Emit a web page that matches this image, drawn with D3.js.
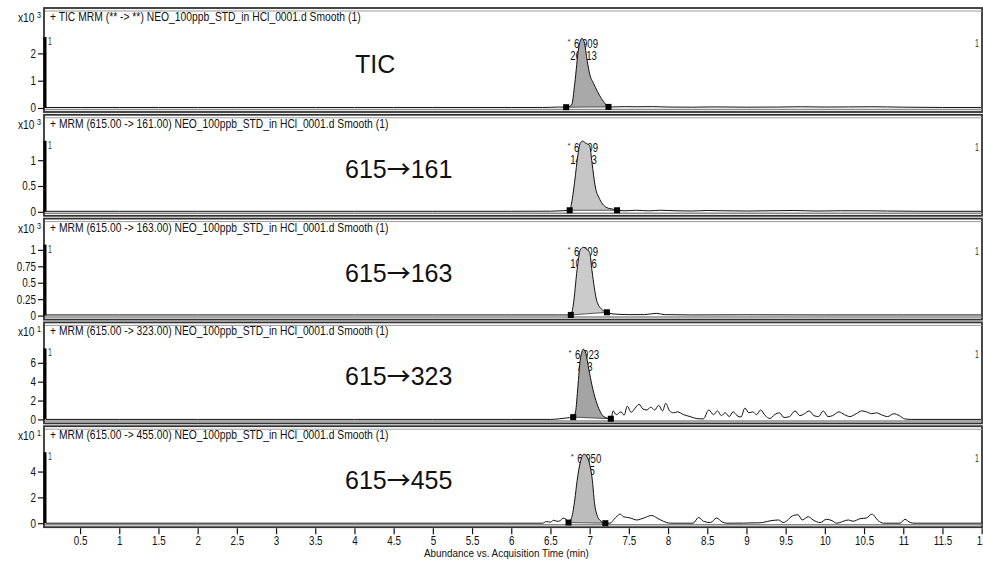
<!DOCTYPE html>
<html><head><meta charset="utf-8">
<script src="https://cdn.jsdelivr.net/npm/d3@7"></script>
<style>
body{margin:0;background:#fff}
svg{display:block}
</style></head><body>
<svg id="c" width="983" height="561"></svg>
<script>
// ---------- DATA ----------
const xTicks = [0.5,1,1.5,2,2.5,3,3.5,4,4.5,5,5.5,6,6.5,7,7.5,8,8.5,9,9.5,10,10.5,11,11.5,12];
const xTitle = "Abundance vs. Acquisition Time (min)";

const headers = [
  "+ TIC MRM (** -> **) NEO_100ppb_STD_in HCl_0001.d  Smooth (1)",
  "+ MRM (615.00 -> 161.00) NEO_100ppb_STD_in HCl_0001.d  Smooth (1)",
  "+ MRM (615.00 -> 163.00) NEO_100ppb_STD_in HCl_0001.d  Smooth (1)",
  "+ MRM (615.00 -> 323.00) NEO_100ppb_STD_in HCl_0001.d  Smooth (1)",
  "+ MRM (615.00 -> 455.00) NEO_100ppb_STD_in HCl_0001.d  Smooth (1)"
];
const labelPrefix = ["TIC","615","615","615","615"];
const labelSuffix = ["","161","163","323","455"];
const exponents = ["3","3","3","1","1"];
const yMax = [2.6, 1.376, 1.08, 7.53, 5.5];
const yTicks = [[0,1,2],[0,0.5,1],[0,0.25,0.5,0.75,1],[0,2,4,6],[0,2,4]];
const peakRT = [6.909, 6.909, 6.909, 6.923, 6.950];
const peakRTLabel = ["6.909","6.909","6.909","6.923","6.950"];
const peakArea = ["26813","14933","10696","753","585"];
const intStart = [[6.70,0.03],[6.745,0.03],[6.76,0.01],[6.79,0.24],[6.73,0.05]];
const intEnd   = [[7.24,0.04],[7.35,0.03],[7.22,0.05],[7.27,0.07],[7.20,0.0]];

const ticTrace = [[0.04,0.02],[0.5,0.02],[1,0.02],[1.5,0.02],[2,0.02],[2.5,0.02],[3,0.02],[3.5,0.02],[4,0.02],[4.5,0.02],[5,0.02],[5.5,0.02],[6,0.02],[6.4,0.02],[6.5,0.025],[6.6,0.035],[6.70,0.03],[6.77,0.11],[6.81,0.9],[6.86,2.2],[6.9,2.55],[6.93,2.42],[6.97,1.7],[7.0,1.25],[7.05,0.9],[7.1,0.6],[7.15,0.35],[7.2,0.15],[7.24,0.04],[7.3,0.04],[7.45,0.05],[7.6,0.045],[7.8,0.05],[8.0,0.035],[8.3,0.03],[8.6,0.04],[9.0,0.03],[9.4,0.035],[9.7,0.045],[10.0,0.035],[10.3,0.04],[10.6,0.045],[11.0,0.03],[11.5,0.02],[12.03,0.02]];

const mrm161 = [[0.04,0.01],[1,0.01],[2,0.01],[3,0.01],[4,0.01],[5,0.01],[6,0.01],[6.5,0.012],[6.65,0.02],[6.745,0.03],[6.77,0.17],[6.81,0.6],[6.85,1.1],[6.88,1.33],[6.91,1.37],[6.95,1.33],[7.0,1.28],[7.03,0.95],[7.07,0.5],[7.13,0.24],[7.22,0.08],[7.3,0.05],[7.35,0.03],[7.45,0.02],[7.6,0.03],[7.75,0.018],[7.9,0.03],[8.1,0.02],[8.3,0.015],[8.5,0.025],[8.7,0.02],[9.0,0.015],[9.3,0.02],[9.6,0.025],[9.9,0.015],[10.2,0.02],[10.5,0.02],[10.8,0.015],[11.2,0.01],[12.03,0.01]];

const mrm163 = [[0.04,0.01],[1,0.01],[2,0.01],[3,0.01],[4,0.01],[5,0.01],[6,0.01],[6.6,0.01],[6.76,0.01],[6.79,0.15],[6.84,0.7],[6.88,1.0],[6.92,1.04],[6.96,1.01],[7.0,0.96],[7.03,0.68],[7.09,0.23],[7.15,0.1],[7.22,0.05],[7.3,0.025],[7.5,0.015],[7.7,0.015],[7.85,0.035],[7.95,0.015],[8.3,0.01],[9,0.012],[10,0.01],[11,0.01],[12.03,0.01]];

const mrm323 = [[0.04,0],[1,0],[2,0],[3,0],[4,0],[5,0],[6,0],[6.5,0],[6.6,0.05],[6.7,0.15],[6.79,0.24],[6.82,0.8],[6.85,3.5],[6.88,6.3],[6.92,7.45],[6.95,7.0],[6.99,5.3],[7.03,3.6],[7.08,2.0],[7.13,0.9],[7.18,0.3],[7.27,0.07],[7.30,0.9],[7.34,0.5],[7.40,0.8],[7.44,0.45],[7.48,1.4],[7.53,0.75],[7.58,1.2],[7.63,1.6],[7.68,1.1],[7.73,1.0],[7.78,1.3],[7.83,1.0],[7.88,1.5],[7.93,0.9],[7.97,1.7],[8.02,0.9],[8.07,0.7],[8.12,0.8],[8.20,0.5],[8.28,0.3],[8.36,0.1],[8.45,0.05],[8.52,1.0],[8.58,0.5],[8.63,0.9],[8.68,0.4],[8.73,0.7],[8.78,0.3],[8.83,0.8],[8.88,0.4],[8.93,0.25],[8.98,1.2],[9.03,0.7],[9.08,0.8],[9.13,0.5],[9.18,1.0],[9.24,0.4],[9.30,0.1],[9.36,0.5],[9.42,0.7],[9.48,0.2],[9.55,0.3],[9.62,0.9],[9.68,0.4],[9.74,0.6],[9.80,0.9],[9.86,0.4],[9.92,0.3],[9.98,0.9],[10.04,0.3],[10.10,0.4],[10.18,0.8],[10.25,0.5],[10.32,0.3],[10.40,0.6],[10.47,0.9],[10.53,0.8],[10.60,0.6],[10.66,0.7],[10.72,0.5],[10.80,0.3],[10.88,0.6],[10.95,0.4],[11.02,0.05],[11.1,0],[12.03,0]];

const mrm455 = [[0.04,0],[1,0],[2,0],[3,0],[4,0],[5,0],[6,0],[6.4,0],[6.45,0.13],[6.5,0.08],[6.54,0.23],[6.58,0.15],[6.62,0.18],[6.66,0.39],[6.70,0.3],[6.73,0.05],[6.77,0.43],[6.81,1.8],[6.84,3.3],[6.88,4.7],[6.93,5.35],[6.98,4.96],[7.03,3.54],[7.07,1.21],[7.13,0.23],[7.20,0.0],[7.26,0.0],[7.31,0.3],[7.35,0.55],[7.39,0.7],[7.43,0.5],[7.48,0.45],[7.52,0.4],[7.6,0.25],[7.69,0.4],[7.79,0.6],[7.86,0.4],[7.94,0.15],[8.03,0.0],[8.32,0.0],[8.39,0.45],[8.45,0.15],[8.54,0.05],[8.62,0.4],[8.69,0.1],[8.75,0.0],[9.17,0.03],[9.30,0.18],[9.41,0.25],[9.47,0.05],[9.60,0.6],[9.66,0.65],[9.71,0.25],[9.79,0.5],[9.85,0.25],[9.94,0.05],[10.02,0.3],[10.09,0.2],[10.15,0.0],[10.30,0.25],[10.36,0.15],[10.45,0.35],[10.53,0.4],[10.60,0.7],[10.68,0.2],[10.75,0.0],[10.96,0.0],[11.02,0.3],[11.09,0.05],[11.15,0],[12.03,0]];

const traces = [ticTrace, mrm161, mrm163, mrm323, mrm455];
const fillColors = ["#a9a9a9","#c6c6c6","#cbcbcb","#a4a4a4","#bcbcbc"];

// ---------- DRAW ----------
const SANS = '"Liberation Sans",Arial,sans-serif';
const ARROWFONT = '"Noto Sans CJK JP","Noto Sans CJK SC","DejaVu Sans",sans-serif';
const SX = 0.82; // horizontal squeeze to imitate a narrow face
const svg = d3.select("#c");
const frameL = 44, frameR = 982;
const x = d3.scaleLinear().domain([0.04, 12.03]).range([44, 984]);

function ntext(sel, tx, ty, str, size, anchor, sx) {
  return sel.append("text")
    .attr("transform", `translate(${tx},${ty}) scale(${sx || SX},1)`)
    .attr("font-family", SANS).attr("font-size", size)
    .attr("text-anchor", anchor || "start").attr("fill", "#111").text(str);
}

svg.append("defs").append("clipPath").attr("id","plotclip")
  .append("rect").attr("x",46).attr("y",0).attr("width",frameR-47).attr("height",561);

traces.forEach((data, i) => {
  const base0 = 11 + 103.8 * i;
  const top = i === 0 ? 8 : base0;
  const zero = base0 + 97;
  const plotTop = zero - 71;
  const bottom = base0 + 101;
  const y = d3.scaleLinear().domain([0, yMax[i]]).range([zero, plotTop]);
  const g = svg.append("g");

  // frame
  g.append("rect").attr("x", frameL).attr("y", top).attr("width", frameR - frameL).attr("height", bottom - top)
    .attr("fill", "none").attr("stroke", "#333").attr("stroke-width", 1.8);
  g.append("line").attr("x1", frameL+1).attr("x2", frameR).attr("y1", top+3).attr("y2", top+3)
    .attr("stroke", "#9a9a9a").attr("stroke-width", 1);
  g.append("line").attr("x1", frameL+1).attr("x2", frameR).attr("y1", bottom-2.5).attr("y2", bottom-2.5)
    .attr("stroke", "#8a8a8a").attr("stroke-width", 1.5);

  // header
  ntext(g, 50, top + 13, headers[i], 12, "start", 0.86);

  // exponent label
  const ex = ntext(g, 18, top + 14, "", 12, "start", 0.85);
  ex.append("tspan").text("x10");
  ex.append("tspan").attr("dx", 3).attr("dy", -4).attr("font-size", 8.5).text(exponents[i]);

  // y axis
  const ya = g.append("g").attr("transform", `translate(${frameL},0)`)
    .call(d3.axisLeft(y).tickValues(yTicks[i]).tickSize(6).tickPadding(2).tickFormat(d3.format("")));
  ya.select(".domain").remove();
  ya.selectAll(".tick line").attr("stroke", "#111").attr("stroke-width", 1.2);
  ya.selectAll(".tick text").attr("font-family", SANS).attr("font-size", 12).attr("fill", "#111")
    .attr("x", -8 / SX).attr("transform", `scale(${SX},1)`);
  g.append("line").attr("x1", frameL+1).attr("x2", frameL+1).attr("y1", y(yMax[i])).attr("y2", zero)
    .attr("stroke", "#000").attr("stroke-width", 3);

  // small "1" markers
  ntext(g, 48, base0 + 34, "1", 10, "start", 0.7).attr("fill", "#333");
  ntext(g, 975, base0 + 36, "1", 10, "start", 0.7).attr("fill", "#333");

  // big label
  const bl = g.append("text").attr("x", i === 0 ? 355 : 345).attr("y", i === 0 ? base0 + 62 : base0 + 63)
    .attr("font-family", SANS).attr("font-size", 25).attr("fill", "#111");
  bl.append("tspan").text(labelPrefix[i]);
  if (labelSuffix[i]) {
    bl.append("tspan").attr("font-family", ARROWFONT).attr("font-size", 24).attr("font-weight", 500).text("\u2192");
    bl.append("tspan").text(labelSuffix[i]);
  }

  // peak annotation
  const ax = x(peakRT[i]);
  ntext(g, ax - 15, base0 + 33, "*", 8, "start", 1).attr("fill", "#333");
  ntext(g, ax + 3.5, base0 + 37, peakRTLabel[i], 12, "middle", 0.8);
  ntext(g, ax + 1, base0 + 49, peakArea[i], 12, "middle", 0.8);

  // integrated area
  const [t0, v0] = intStart[i], [t1, v1] = intEnd[i];
  const base = t => v0 + (v1 - v0) * (t - t0) / (t1 - t0);
  const seg = data.filter(d => d[0] >= t0 - 1e-9 && d[0] <= t1 + 1e-9);
  const curve = d3.curveMonotoneX;
  const pg = g.append("g").attr("clip-path", "url(#plotclip)");
  pg.append("path").datum(seg)
    .attr("d", d3.area().curve(curve).x(d => x(d[0])).y0(d => y(base(d[0]))).y1(d => y(d[1])))
    .attr("fill", fillColors[i]).attr("stroke", "none");
  pg.append("line").attr("x1", x(t0)).attr("y1", y(v0)).attr("x2", x(t1)).attr("y2", y(v1))
    .attr("stroke", "#333").attr("stroke-width", 0.8);

  // trace
  pg.append("path").datum(data)
    .attr("d", d3.line().curve(curve).x(d => x(d[0])).y(d => y(d[1])))
    .attr("fill", "none").attr("stroke", "#111").attr("stroke-width", 1);

  // integration markers
  [[t0, v0], [t1, v1]].forEach(p => {
    pg.append("rect").attr("x", x(p[0]) - 3).attr("y", y(p[1]) - 3).attr("width", 6).attr("height", 6).attr("fill", "#000");
  });

  if (i === 4) {
    const xa = svg.append("g").attr("transform", `translate(0,${bottom + 1})`)
      .call(d3.axisBottom(x).tickValues(xTicks).tickSize(6).tickPadding(2).tickFormat(d3.format("")));
    xa.select(".domain").remove();
    xa.selectAll(".tick line").attr("stroke", "#111").attr("stroke-width", 1.2);
    xa.selectAll(".tick text").attr("font-family", SANS).attr("font-size", 12).attr("fill", "#111")
      .attr("transform", `scale(${SX},1)`);
    ntext(svg, 424, 557, xTitle, 11.5, "start", 0.86);
  }
});
</script>
</body></html>
